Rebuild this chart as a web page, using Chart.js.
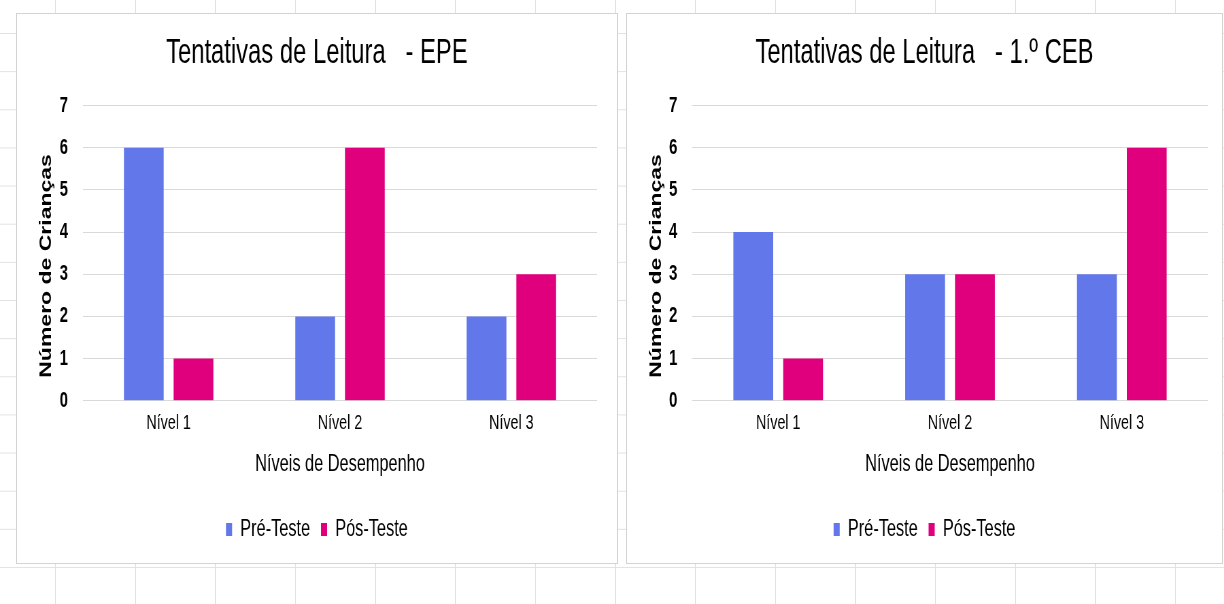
<!DOCTYPE html>
<html lang="pt">
<head>
<meta charset="utf-8">
<title>Tentativas de Leitura</title>
<script src="https://cdn.jsdelivr.net/npm/chart.js@4.4.1/dist/chart.umd.min.js"></script>
<style>
  html, body { margin: 0; padding: 0; }
  body {
    width: 1224px;
    height: 604px;
    overflow: hidden;
    position: relative;
    background-color: #fff;
    /* spreadsheet cells behind the two charts */
    background-image:
      linear-gradient(to right, #e2e2e2 1px, transparent 1px),
      linear-gradient(to bottom, #e2e2e2 1px, transparent 1px);
    background-size: 80px 100%, 100% 38.15px;
    background-position: 55px 0, 0 33px;
  }
  .box {
    position: absolute;
    top: 13px;
    height: 549px;
    background: #fff;
    border: 1px solid #d3d3d3;
    overflow: hidden;
  }
  #box-epe { left: 16px; width: 600px; }
  #box-ceb { left: 626px; width: 595px; }
  /* the source screenshot is squeezed sideways, so the charts are too */
  .box canvas {
    position: absolute;
    left: 0;
    top: 0;
    transform-origin: 0 0;
    transform: scaleX(0.68);
  }
</style>
</head>
<body>
<div class="box" id="box-epe"><canvas id="chart-epe" width="882" height="549" style="width:882px;height:549px"></canvas></div>
<div class="box" id="box-ceb"><canvas id="chart-ceb" width="875" height="549" style="width:875px;height:549px"></canvas></div>

<script>
// Data
const categories = ['Nível 1', 'Nível 2', 'Nível 3'];
const seriesNames = ['Pré-Teste', 'Pós-Teste'];
const yTicks = [0, 1, 2, 3, 4, 5, 6, 7];

const epePre = [6, 2, 2];
const epePos = [1, 6, 3];
const cebPre = [4, 3, 3];
const cebPos = [1, 3, 6];

const preColor = '#6177ea';
const posColor = '#e0007e';
const textColor = '#000';

Chart.defaults.font.family = "'Liberation Sans', Arial, sans-serif";

function makeChart(canvasId, titleText, preData, posData, yWidth, rightWidth) {
    const ctx = document.getElementById(canvasId).getContext('2d');
    return new Chart(ctx, {
        type: 'bar',
        data: {
            labels: categories,
            datasets: [
                {
                    label: seriesNames[0],
                    data: preData,
                    backgroundColor: preColor,
                    categoryPercentage: 0.58,
                    barPercentage: 0.8
                },
                {
                    label: seriesNames[1],
                    data: posData,
                    backgroundColor: posColor,
                    categoryPercentage: 0.58,
                    barPercentage: 0.8
                }
            ]
        },
        options: {
            responsive: false,
            animation: false,
            devicePixelRatio: 1,
            layout: { padding: { left: 0, right: 0, top: 0, bottom: 11.5 } },
            plugins: {
                title: {
                    display: true,
                    text: titleText,
                    color: textColor,
                    font: { size: 35, weight: 'normal' },
                    padding: { top: 18.6, bottom: 31 }
                },
                legend: {
                    position: 'bottom',
                    labels: {
                        boxWidth: 9,
                        boxHeight: 13,
                        padding: 16,
                        color: textColor,
                        font: { size: 24 }
                    }
                },
                tooltip: { enabled: false }
            },
            scales: {
                x: {
                    grid: { display: false, drawTicks: false },
                    border: { display: false },
                    ticks: { color: textColor, font: { size: 21 }, padding: 10.4 },
                    title: {
                        display: true,
                        text: 'Níveis de Desempenho',
                        color: textColor,
                        font: { size: 24 },
                        padding: { top: 3, bottom: 23 }
                    }
                },
                y: {
                    min: 0,
                    max: 7,
                    afterBuildTicks: axis => {
                        axis.ticks = yTicks.map(v => ({ value: v }));
                    },
                    afterFit: axis => {
                        axis.width = yWidth;
                    },
                    grid: { color: '#d9d9d9', lineWidth: 1, drawTicks: false },
                    border: { display: false },
                    ticks: {
                        padding: 22,
                        color: textColor,
                        font: { size: 22, weight: 'bold' }
                    },
                    title: {
                        display: true,
                        // trailing spaces push the title a little below the middle, as in the picture
                        text: 'Número de Crianças    ',
                        color: textColor,
                        font: { size: 23, weight: 'bold' },
                        padding: { top: 30, bottom: 0 }
                    }
                },
                // empty axis on the right, only keeps the margin so title and legend stay centred on the box
                yRight: {
                    type: 'linear',
                    position: 'right',
                    afterFit: axis => {
                        axis.width = rightWidth;
                    },
                    grid: { display: false, drawTicks: false },
                    border: { display: false },
                    ticks: { display: false }
                }
            }
        }
    });
}

makeChart('chart-epe', 'Tentativas de Leitura   - EPE', epePre, epePos, 97, 29);
makeChart('chart-ceb', 'Tentativas de Leitura   - 1.º CEB', cebPre, cebPos, 96, 21);
</script>
</body>
</html>
